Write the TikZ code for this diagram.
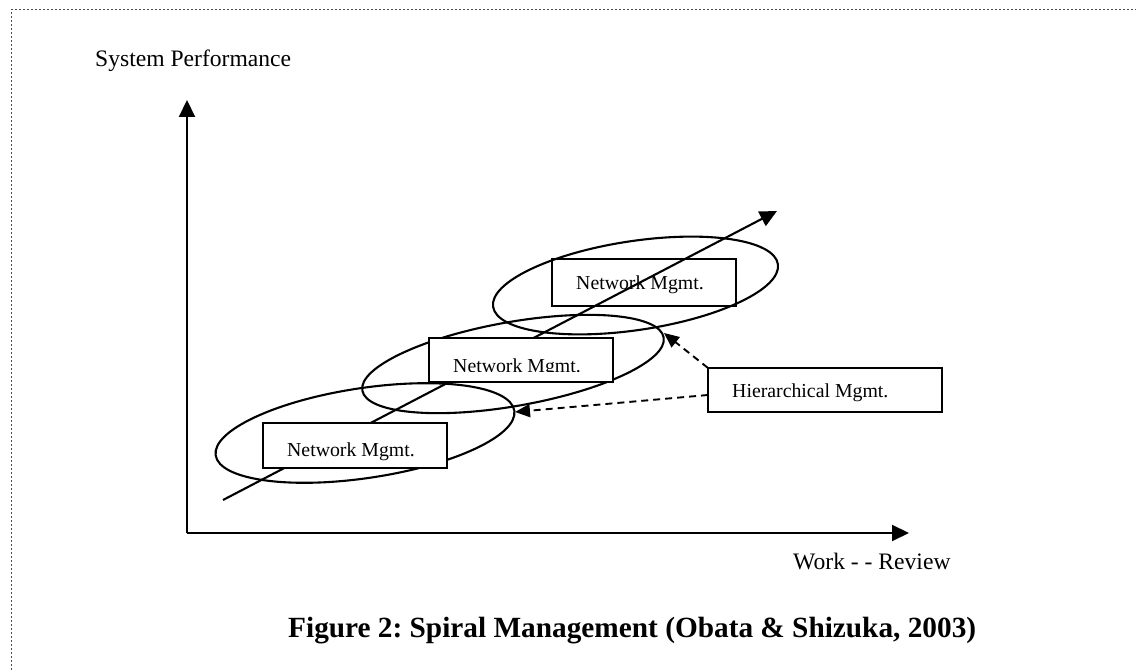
\documentclass[tikz,border=0pt]{standalone}
\usepackage{fontspec}
\setmainfont{Liberation Serif}
\usetikzlibrary{arrows.meta}
\frenchspacing
\begin{document}
\begin{tikzpicture}[x=1pt,y=1pt,
  ln/.style={line width=2.1pt},
  box/.style={draw=black,line width=2.1pt,inner sep=0pt,outer sep=0pt},
  boxtxt/.style={anchor=base west,inner sep=0pt,font=\fontsize{19.8}{24}\selectfont},
  axtxt/.style={anchor=base west,inner sep=0pt,font=\fontsize{23.6}{28}\selectfont},
  bigarrow/.style={ln,-{Triangle[length=17pt,width=16pt]}},
  dasharrow/.style={line width=1.9pt,dash pattern=on 7pt off 5pt,-{Triangle[length=15pt,width=13pt]}},
  frame/.style={line width=1.8pt,draw=black!70,dash pattern=on 1.8pt off 2.2pt}
]
\useasboundingbox (0,0) rectangle (1136,670);
% dotted frame
\coordinate (f1) at (11.5,0);
\coordinate (f2) at (11.5,660.5);
\coordinate (f3) at (1136,660.5);
\draw[frame] (f1) -- (f2) -- (f3);

% axes
\coordinate (O) at (187,137);
\coordinate (ytop) at (187,570);
\coordinate (xend) at (909,137);
\draw[bigarrow] (O) -- (ytop);
\draw[bigarrow] (O) -- (xend);
\node[axtxt] (ylab) at (95,603) {System Performance};
\node[axtxt] (xlab) at (793,100) {Work - - Review};

% ellipses
\draw[ln,rotate around={8.5:(365,237)}] (365,237) ellipse (151 and 45);
\draw[ln,rotate around={10:(513,306)}] (513,306) ellipse (153 and 42);
\draw[ln,rotate around={8.5:(635.5,384.5)}] (635.5,384.5) ellipse (144 and 44.5);

% main diagonal arrow
\coordinate (ds) at (223,170);
\coordinate (de) at (777,459);
\draw[bigarrow] (ds) -- (de);

% boxes
\node[box,fill=white,minimum width=184pt,minimum height=45pt] (b1) at (355,224.5) {};
\node[box,fill=white,minimum width=184pt,minimum height=44pt] (b2) at (521,310) {};
\node[box,minimum width=184pt,minimum height=47pt] (b3) at (644,387.5) {};
\node[box,fill=white,minimum width=234pt,minimum height=44pt] (bh) at (825,280) {};

\node[boxtxt] (t1) at (287,213) {Network Mgmt.};
\begin{scope}
  \clip (432,298) rectangle (610,330);
  \node[boxtxt] (t2) at (453,297) {Network Mgmt.};
\end{scope}
\node[boxtxt] (t3) at (576,380) {Network Mgmt.};
\node[boxtxt] (th) at (732,272) {Hierarchical Mgmt.};

% dashed arrows
\coordinate (ea) at (664,337);
\coordinate (eb) at (515,258);
\draw[dasharrow] (bh.north west) -- (ea);
\draw[dasharrow] ([yshift=-5pt]bh.west) -- (eb);

% caption
\node[anchor=base west,inner sep=0pt,font=\fontsize{29.3}{34}\selectfont\bfseries] (cap) at (288,33) {Figure 2: Spiral Management (Obata \& Shizuka, 2003)};
\end{tikzpicture}
\end{document}
